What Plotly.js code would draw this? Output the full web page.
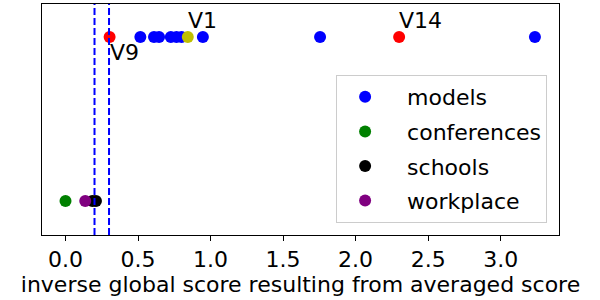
<!DOCTYPE html>
<html>
<head>
<meta charset="utf-8">
<script src="https://cdn.plot.ly/plotly-3.0.1.min.js"></script>
<style>html,body{margin:0;padding:0;background:#fff;}#chart{width:600px;height:300px;}</style>
</head>
<body>
<div id="chart"></div>
<script>
// ---- data ----
const modelsX = [0.516, 0.61, 0.645, 0.726, 0.765, 0.80, 0.947, 1.755, 3.236];
const modelsY = [1, 1, 1, 1, 1, 1, 1, 1, 1];
const conferencesX = [0.0];
const conferencesY = [0];
const schoolsX = [0.185, 0.21];
const schoolsY = [0, 0];
const workplaceX = [0.136];
const workplaceY = [0];
const redX = [0.304, 2.30];
const redY = [1, 1];
const redLabels = ["V9", "V14"];
const yellowX = [0.843];
const yellowY = [1];
const yellowLabels = ["V1"];
const thresholds = [0.2, 0.3];
const xTicks = [0, 0.5, 1.0, 1.5, 2.0, 2.5, 3.0];
const seriesNames = ["models", "conferences", "schools", "workplace"];
const xTitle = "inverse global score resulting from averaged score";

const FONT = "DejaVu Sans, sans-serif";
const FS = 22;
const MS = 12;
function sc(x, y, color, name, group, show) {
  return {type: "scatter", mode: "markers", x: x, y: y, name: name,
    legendgroup: group, showlegend: show,
    marker: {color: color, size: MS, line: {width: 0}}, hoverinfo: "skip"};
}
const pad = "  ";
const traces = [
  sc(modelsX, modelsY, "#0000ff", pad + seriesNames[0], "g1", true),
  sc(conferencesX, conferencesY, "#008000", pad + seriesNames[1], "g2", true),
  sc(schoolsX, schoolsY, "#000000", pad + seriesNames[2], "g3", true),
  sc(workplaceX, workplaceY, "#800080", pad + seriesNames[3], "g4", true),
  sc(redX, redY, "#ff0000", "red", "g5", false),
  sc(yellowX, yellowY, "#bfbf00", "yellow", "g6", false)
];

const annotations = [];
annotations.push({x: redX[0], y: redY[0], xref: "x", yref: "y", text: redLabels[0],
  showarrow: false, xanchor: "left", yanchor: "middle", xshift: -2, yshift: -16,
  font: {family: FONT, size: 22, color: "#000"}});
annotations.push({x: redX[1], y: redY[1], xref: "x", yref: "y", text: redLabels[1],
  showarrow: false, xanchor: "left", yanchor: "middle", xshift: -2, yshift: 16,
  font: {family: FONT, size: 22, color: "#000"}});
annotations.push({x: yellowX[0], y: yellowY[0], xref: "x", yref: "y", text: yellowLabels[0],
  showarrow: false, xanchor: "left", yanchor: "middle", xshift: -2, yshift: 16,
  font: {family: FONT, size: 22, color: "#000"}});

const shapes = thresholds.map(t => ({type: "line", xref: "x", yref: "paper",
  x0: t, x1: t, y0: 0, y1: 1, layer: "above",
  line: {color: "#0000ff", width: 2, dash: "7px,3px"}}));

const layout = {
  width: 600, height: 300,
  margin: {l: 42, r: 41, t: 4, b: 65, pad: 0},
  paper_bgcolor: "#fff", plot_bgcolor: "#fff",
  font: {family: FONT, size: FS, color: "#000"},
  showlegend: true,
  legend: {x: 0.977, y: 0.052, xanchor: "right", yanchor: "bottom",
    bgcolor: "rgba(255,255,255,0.8)", bordercolor: "#cccccc", borderwidth: 1,
    font: {family: FONT, size: FS, color: "#000"},
    itemwidth: 46,
    traceorder: "grouped", tracegroupgap: 3},
  xaxis: {range: [-0.162, 3.402], tickvals: xTicks, tickformat: ".1f",
    ticks: "outside", ticklen: 5, tickwidth: 1, tickcolor: "#000",
    showgrid: false, zeroline: false, showline: true, mirror: true,
    linecolor: "#000", linewidth: 1,
    tickfont: {family: FONT, size: FS, color: "#000"},
    title: {text: xTitle, font: {family: FONT, size: FS, color: "#000"}, standoff: 4}},
  yaxis: {range: [-0.207, 1.201], showticklabels: false, ticks: "",
    showgrid: false, zeroline: false, showline: true, mirror: true,
    linecolor: "#000", linewidth: 1},
  shapes: shapes,
  annotations: annotations
};
Plotly.newPlot("chart", traces, layout, {staticPlot: true, displayModeBar: false});
</script>
</body>
</html>
